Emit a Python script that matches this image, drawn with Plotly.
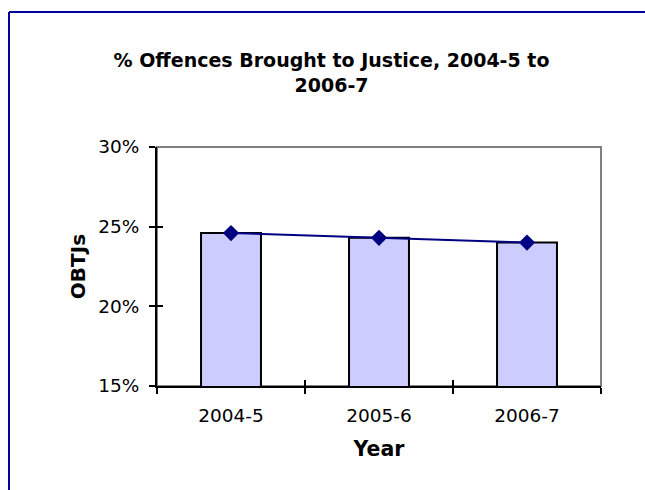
import plotly.graph_objects as go

# Offences brought to justice as a share of recorded offences
years = ["2004-5", "2005-6", "2006-7"]
obtj_pct = [24.6, 24.3, 24.0]
y_ticks = [15, 20, 25, 30]
y_tick_labels = ["15%", "20%", "25%", "30%"]

x_pos = list(range(len(years)))
bounds = [i - 0.5 for i in range(len(years) + 1)]

navy = "#000080"
font_family = "DejaVu Sans, Verdana, sans-serif"

fig = go.Figure()
fig.add_trace(go.Bar(
    x=x_pos, y=obtj_pct, width=0.405,
    marker=dict(color="#CCCCFF", line=dict(color="black", width=2)),
    showlegend=False, hoverinfo="skip",
))
fig.add_trace(go.Scatter(
    x=x_pos, y=obtj_pct, mode="lines+markers",
    line=dict(color=navy, width=2),
    marker=dict(symbol="diamond", size=12.5, color=navy),
    showlegend=False,
))

axis_font = dict(family=font_family, size=18.5, color="black")

fig.update_layout(
    width=645, height=490,
    margin=dict(l=157, r=44, t=147, b=104),
    paper_bgcolor="white", plot_bgcolor="white",
    font=dict(family=font_family, color="black"),
    title=dict(
        text="<b>% Offences Brought to Justice, 2004-5 to<br>2006-7</b>",
        x=331.5 / 645, xanchor="center", xref="container",
        y=1 - 67 / 490, yanchor="middle", yref="container",
        font=dict(family=font_family, size=19, color="black"),
    ),
    xaxis=dict(
        range=[-0.5, 2.5], tickvals=x_pos, ticktext=years,
        ticks="", tickfont=axis_font, showgrid=False, zeroline=False,
        showline=True, linecolor="black", linewidth=2,
        ticklabelstandoff=12,
        minor=dict(tickvals=bounds, ticks="outside", ticklen=6,
                   tickwidth=2, tickcolor="black"),
        title=dict(text="<b>Year</b>", standoff=16,
                   font=dict(family=font_family, size=20.5)),
    ),
    xaxis2=dict(
        overlaying="x", range=[-0.5, 2.5], tickvals=bounds,
        showticklabels=False, ticks="inside", ticklen=6, tickwidth=2,
        tickcolor="black", showgrid=False, zeroline=False, showline=False,
    ),
    yaxis=dict(
        range=[15, 30], tickvals=y_ticks, ticktext=y_tick_labels,
        ticks="outside", ticklen=6, tickwidth=2, tickcolor="black",
        tickfont=axis_font, showgrid=False, zeroline=False,
        showline=True, linecolor="black", linewidth=2,
        ticklabelstandoff=6,
        title=dict(text="<b>OBTJs</b>", standoff=7,
                   font=dict(family=font_family, size=20)),
    ),
    yaxis2=dict(
        overlaying="y", range=[15, 30], tickvals=y_ticks,
        showticklabels=False, ticks="inside", ticklen=6, tickwidth=2,
        tickcolor="black", showgrid=False, zeroline=False, showline=False,
    ),
    shapes=[
        # grey frame around the plot area
        dict(type="rect", xref="paper", yref="paper", x0=0, x1=1, y0=0, y1=1,
             line=dict(color="#808080", width=2), layer="below"),
        # chart-area border (left and top edges)
        dict(type="line", xref="paper", yref="paper",
             x0=(9 - 157) / 444, x1=(9 - 157) / 444,
             y0=(386 - 12) / 239, y1=-1,
             line=dict(color="#000099", width=2)),
        dict(type="line", xref="paper", yref="paper",
             x0=(9 - 157) / 444, x1=2,
             y0=(386 - 12) / 239, y1=(386 - 12) / 239,
             line=dict(color="#000099", width=2)),
    ],
)

# invisible trace to activate the overlay axes carrying inward ticks
fig.add_trace(go.Scatter(x=[0], y=[20], xaxis="x2", yaxis="y2",
                         mode="markers", marker=dict(opacity=0),
                         showlegend=False, hoverinfo="skip"))

fig.write_html("out.html")
